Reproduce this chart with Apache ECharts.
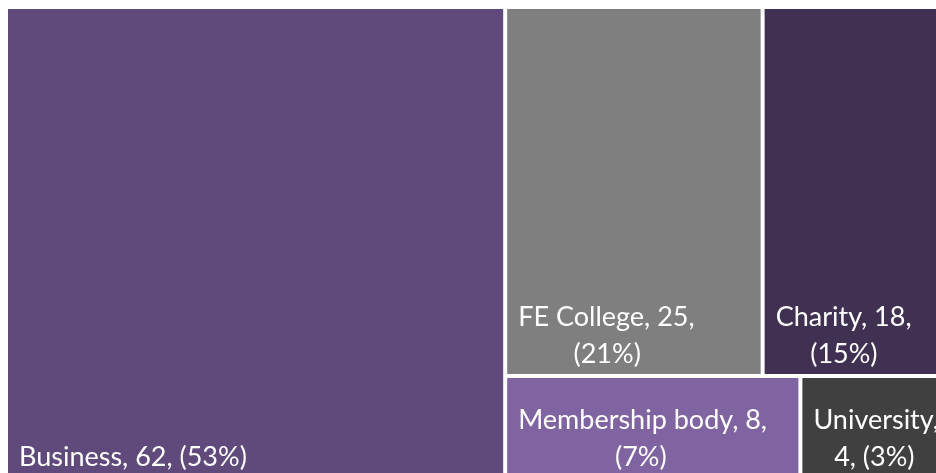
<!DOCTYPE html>
<html>
<head>
<meta charset="utf-8">
<script src="https://cdn.jsdelivr.net/npm/echarts@6/dist/echarts.min.js"></script>
<style>
html, body { margin: 0; padding: 0; background: #fff; }
#chart { width: 936px; height: 473px; }
</style>
</head>
<body>
<div id="chart"></div>
<script>
// organisation types and how many of each
var categories = ['Business', 'FE College', 'Charity', 'Membership body', 'University'];
var counts = [62, 25, 18, 8, 4];

var palette = {
    'Business': '#604a7b',
    'FE College': '#7f7f7f',
    'Charity': '#403152',
    'Membership body': '#8064a2',
    'University': '#404040'
};
// how many label pieces go on the first line (rest wraps), default 2
var firstLineParts = { 'Business': 3, 'University': 1 };

var FONT = 'Lato';
var FONT_SIZE = 27;

var total = counts.reduce(function (a, b) { return a + b; }, 0);

var ctx = document.createElement('canvas').getContext('2d');
ctx.font = FONT_SIZE + 'px ' + FONT;

// pad the shorter line with spaces so the two lines look centred on each other
function centreLines(lines) {
    if (lines.length < 2) return lines.join('');
    var widths = lines.map(function (l) { return ctx.measureText(l).width; });
    var maxW = Math.max.apply(null, widths);
    var sp = ctx.measureText(' ').width;
    return lines.map(function (l, i) {
        var n = Math.round((maxW - widths[i]) / 2 / sp);
        return new Array(n + 1).join(' ') + l;
    }).join('\n');
}

var data = categories.map(function (name, i) {
    return {
        name: name,
        value: counts[i],
        itemStyle: { color: palette[name] }
    };
});

var chart = echarts.init(document.getElementById('chart'));
chart.setOption({
    animation: false,
    series: [{
        type: 'treemap',
        left: 6,
        top: 7,
        width: 942,
        height: 472,
        roam: false,
        nodeClick: false,
        breadcrumb: { show: false },
        label: {
            show: true,
            position: 'insideBottomLeft',
            distance: 0,
            padding: [0, 0, 1, 11],
            color: '#fff',
            fontFamily: FONT,
            fontSize: FONT_SIZE,
            lineHeight: 37,
            overflow: 'none',
            formatter: function (p) {
                var pct = Math.round(p.value / total * 100);
                var parts = [p.name + ',', p.value + ',', '(' + pct + '%)'];
                var k = firstLineParts[p.name] || 2;
                var lines = [parts.slice(0, k).join(' ')];
                if (k < parts.length) lines.push(parts.slice(k).join(' '));
                return centreLines(lines);
            }
        },
        levels: [
            { itemStyle: { borderWidth: 0, gapWidth: 0 } },
            { itemStyle: { borderWidth: 2, borderColor: '#fff', gapWidth: 0 } }
        ],
        data: data
    }]
});
</script>
</body>
</html>
